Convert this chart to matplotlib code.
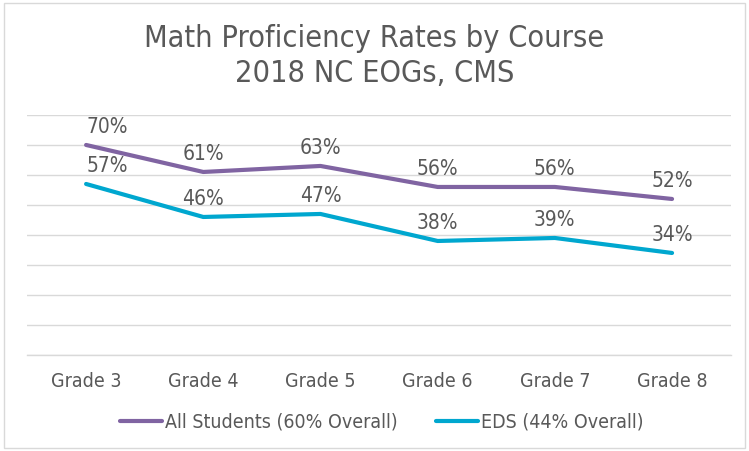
import matplotlib
matplotlib.use("Agg")
import matplotlib.pyplot as plt
from matplotlib.patches import Rectangle
from matplotlib.ticker import MultipleLocator

plt.rcParams["font.family"] = ["DejaVu Sans"]
plt.rcParams["font.stretch"] = "condensed"

grades = ["Grade 3", "Grade 4", "Grade 5", "Grade 6", "Grade 7", "Grade 8"]
all_students = [0.70, 0.61, 0.63, 0.56, 0.56, 0.52]
eds = [0.57, 0.46, 0.47, 0.38, 0.39, 0.34]
series_names = ["All Students (60% Overall)", "EDS (44% Overall)"]

TEXT = "#595959"
GRID = "#d9d9d9"
PURPLE = "#8064a2"
CYAN = "#00a7cf"

fig = plt.figure(figsize=(7.49, 4.51), dpi=100)
ax = fig.add_axes([0.0367, 0.2129, 0.9388, 0.5322])

x = list(range(len(grades)))
for vals, color, name in [(all_students, PURPLE, series_names[0]),
                          (eds, CYAN, series_names[1])]:
    ax.plot(x, vals, color=color, linewidth=3, solid_capstyle="round", label=name)
    for i, v in enumerate(vals):
        ha = "left" if i == 0 else "center"
        ax.annotate(f"{v:.0%}", (i, v), xytext=(0, 13), textcoords="offset points",
                    ha=ha, va="center", fontsize=15, color=TEXT)

ax.set_xlim(-0.5, len(grades) - 0.5)
ax.set_ylim(0, 0.8)
ax.yaxis.set_major_locator(MultipleLocator(0.1))
ax.grid(axis="y", color=GRID, linewidth=1)
ax.axhline(0, color=GRID, linewidth=1, clip_on=False, zorder=0)
ax.set_axisbelow(True)
ax.set_yticklabels([])
ax.tick_params(axis="y", length=0)
ax.tick_params(axis="x", length=0, pad=12, labelsize=14, labelcolor=TEXT)
ax.set_xticks(x)
ax.set_xticklabels(grades)
for s in ax.spines.values():
    s.set_visible(False)

fig.text(0.5, 0.896, "Math Proficiency Rates by Course", ha="center", va="baseline",
         fontsize=22, color=TEXT)
fig.text(0.5, 0.818, "2018 NC EOGs, CMS", ha="center", va="baseline",
         fontsize=22, color=TEXT)

fig.legend(loc="center", bbox_to_anchor=(0.51, 0.064), ncol=2, frameon=False,
           fontsize=14, labelcolor=TEXT, handlelength=2.15, handletextpad=0.15,
           columnspacing=2.0)

fig.add_artist(Rectangle((4 / 749, 3 / 451), 741 / 749, 445 / 451,
                         transform=fig.transFigure, fill=False,
                         edgecolor=GRID, linewidth=1))

fig.savefig("out.png", dpi=100)
